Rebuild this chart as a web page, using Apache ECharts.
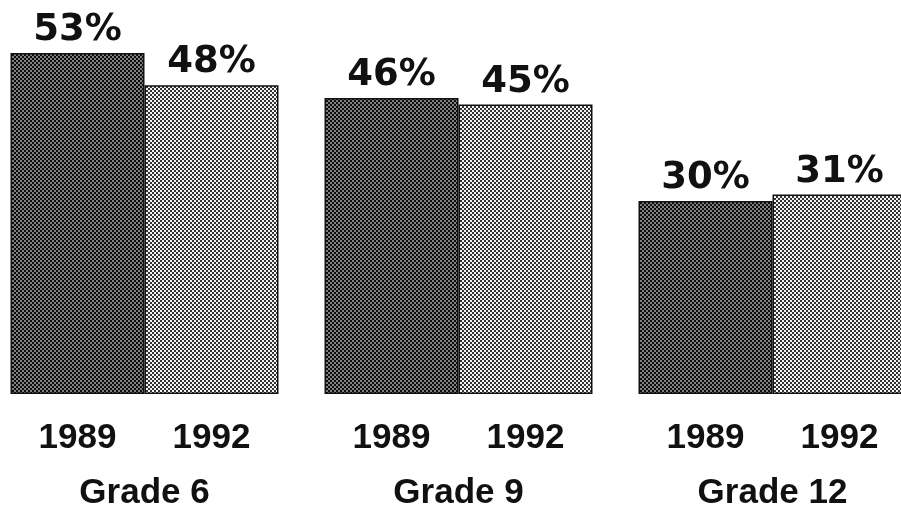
<!DOCTYPE html>
<html>
<head>
<meta charset="utf-8">
<script src="https://cdn.jsdelivr.net/npm/echarts@6/dist/echarts.min.js"></script>
<style>
html,body{margin:0;padding:0;background:#fff;}
#chart{width:901px;height:508px;}
</style>
</head>
<body>
<div id="chart"></div>
<script>
const grades = ['Grade 6', 'Grade 9', 'Grade 12'];
const years = ['1989', '1992'];
const values1989 = [53, 46, 30];
const values1992 = [48, 45, 31];

function makePattern(c1, c2, cell) {
  const cv = document.createElement('canvas');
  cv.width = cell * 2; cv.height = cell * 2;
  const ctx = cv.getContext('2d');
  ctx.fillStyle = c1; ctx.fillRect(0, 0, cell * 2, cell * 2);
  ctx.fillStyle = c2;
  ctx.fillRect(0, 0, cell, cell);
  ctx.fillRect(cell, cell, cell, cell);
  return { image: cv, repeat: 'repeat' };
}
const darkFill = makePattern('#0d0d0d', '#808080', 2);
const lightFill = makePattern('#f2f2f2', '#333333', 2);

const chart = echarts.init(document.getElementById('chart'), null, { renderer: 'canvas' });
const font = '"Liberation Sans", Arial, sans-serif';
const valueFont = '"DejaVu Sans", "Liberation Sans", sans-serif';

function yearSeries(name, stack) {
  return {
    type: 'bar', stack: stack, name: name,
    data: grades.map(() => 0),
    itemStyle: { color: 'rgba(0,0,0,0)', borderWidth: 0 },
    label: { show: true, position: 'bottom', distance: 27, formatter: name,
      fontFamily: font, fontWeight: 'bold', fontSize: 35, color: '#111' },
    silent: true
  };
}
function valueSeries(name, stack, vals, fill) {
  return {
    type: 'bar', stack: stack, name: name + ' value',
    data: vals,
    barWidth: 134,
    itemStyle: { color: fill, borderColor: '#111', borderWidth: 1.5 },
    label: { show: true, position: 'top', distance: 4, formatter: '{c}%',
      fontFamily: valueFont, fontWeight: 'bold', fontSize: 37, color: '#111' }
  };
}

chart.setOption({
  animation: false,
  backgroundColor: '#ffffff',
  grid: { left: -12.5, width: 942, top: 0, bottom: 114, containLabel: false, outerBoundsMode: 'none' },
  xAxis: {
    type: 'category', data: grades,
    axisLine: { show: false }, axisTick: { show: false },
    axisLabel: { margin: 82, fontFamily: font, fontWeight: 'bold', fontSize: 35, color: '#111' }
  },
  yAxis: { type: 'value', min: 0, max: 61.24, show: false, splitLine: { show: false } },
  series: [
    Object.assign(yearSeries(years[0], 's1989'), { barWidth: 134, barGap: '0%' }),
    valueSeries(years[0], 's1989', values1989, darkFill),
    Object.assign(yearSeries(years[1], 's1992'), { barWidth: 134 }),
    valueSeries(years[1], 's1992', values1992, lightFill)
  ]
});
</script>
</body>
</html>
